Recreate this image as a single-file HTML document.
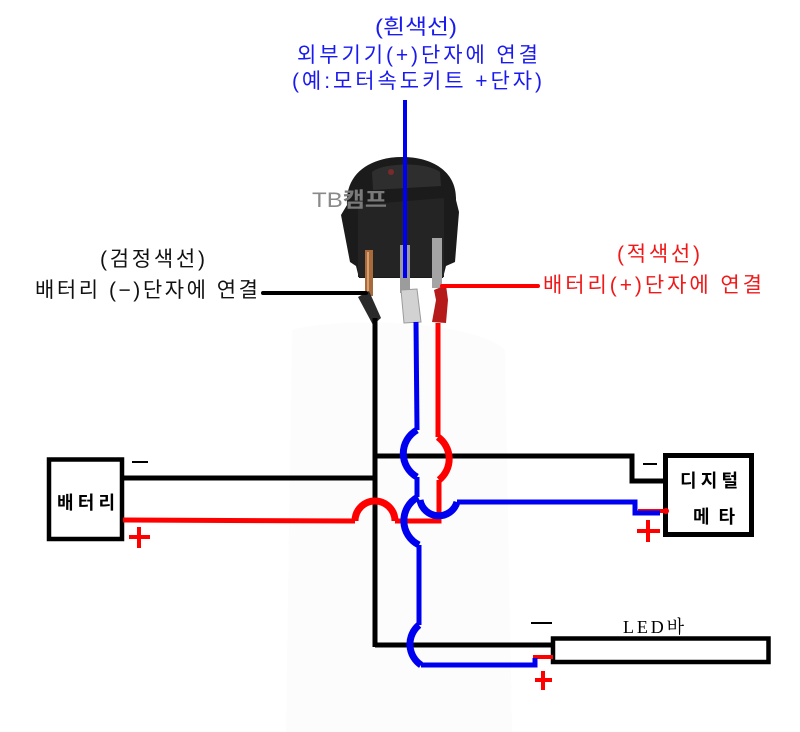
<!DOCTYPE html>
<html><head><meta charset="utf-8"><style>html,body{margin:0;padding:0;background:#fff;}svg{display:block}
text{font-family:"Liberation Sans","Noto Sans CJK KR",sans-serif;}
</style></head>
<body>
<svg width="800" height="732" viewBox="0 0 800 732" xmlns="http://www.w3.org/2000/svg">
<rect width="800" height="732" fill="#fff"/>
<path d="M292,330 C330,318 470,318 505,350 L512,732 L286,732 Z" fill="#fcfcfc"/>

<!-- top blue label -->
<g fill="#1a1af0" font-size="21">
<text x="375" y="34" textLength="82" lengthAdjust="spacingAndGlyphs">(흰색선)</text>
<text x="297" y="62" textLength="241" lengthAdjust="spacing">외부기기(+)단자에 연결</text>
<text x="292" y="88" textLength="250" lengthAdjust="spacing">(예:모터속도키트 +단자)</text>
</g>
<!-- left label -->
<g fill="#111" font-size="21">
<text x="100" y="266" textLength="105" lengthAdjust="spacing">(검정색선)</text>
<text x="35" y="297" textLength="223" lengthAdjust="spacing">배터리 (−)단자에 연결</text>
</g>
<!-- right label -->
<g fill="#f01818" font-size="21">
<text x="617" y="261" textLength="83" lengthAdjust="spacing">(적색선)</text>
<text x="543" y="292" textLength="219" lengthAdjust="spacing">배터리(+)단자에 연결</text>
</g>

<!-- switch photo approximation -->
<g>
<path d="M347,205 C345,172 372,157 402,157 C433,157 457,172 456,200 L459,212 L455,262 L446,266 L443,278 L359,278 L356,266 L350,262 L341,215 Z" fill="#1b1b1b"/>
<path d="M358,205 L444,198 L444,277 L358,277 Z" fill="#242424"/>
<path d="M372,172 C382,163 425,161 440,172 L441,186 L373,190 Z" fill="#2e2e2e"/>
<circle cx="391" cy="172" r="3" fill="#7a2a2a"/>
<rect x="365" y="250" width="8" height="46" fill="#a86a3c"/>
<rect x="367" y="252" width="2" height="42" fill="#d9a070"/>
<rect x="400" y="245" width="10" height="48" fill="#9c9c9c"/>
<rect x="432" y="238" width="10" height="50" fill="#a4a4a4"/>
<polygon points="358,297 369,291 381,318 373,325" fill="#2a2a2a"/>
<polygon points="401,290 417,289 421,322 404,323" fill="#d2d2d2" stroke="#9a9a9a" stroke-width="1"/>
<path d="M434,290 L446,285 L448,300 L446,323 L432,322 L436,300 Z" fill="#b51b1b"/>
</g>
<text x="312" y="207" font-size="21" fill="#8a8a8a" textLength="75" lengthAdjust="spacingAndGlyphs">TB<tspan font-weight="bold" fill="#7a7a7a">캠프</tspan></text>

<!-- label wires -->
<line x1="405" y1="100" x2="405" y2="278" stroke="#0000f0" stroke-width="4"/>
<line x1="263" y1="293" x2="366" y2="293" stroke="#000" stroke-width="4" stroke-linecap="round"/>
<line x1="442" y1="286" x2="538" y2="286" stroke="#f00" stroke-width="4" stroke-linecap="round"/>

<!-- black wires -->
<g stroke="#000" stroke-width="5" fill="none">
<line x1="375" y1="318" x2="375" y2="647"/>
<polyline points="375,456 632,456 632,481 665,481"/>
<line x1="122" y1="478" x2="375" y2="478"/>
<line x1="375" y1="645" x2="553" y2="645"/>
</g>

<!-- boxes -->
<rect x="49" y="459.5" width="73" height="79.5" fill="none" stroke="#000" stroke-width="4.5"/>
<rect x="665.5" y="455.5" width="86" height="79" fill="none" stroke="#000" stroke-width="5"/>
<rect x="553" y="638.5" width="215.5" height="23.5" fill="none" stroke="#000" stroke-width="4.5"/>

<!-- red wires -->
<g stroke="#f00" stroke-width="5" fill="none">
<path d="M438,323 L438,437"/>
<path d="M438,437 A27,27 0 0,1 439,480" stroke-width="7"/>
<path d="M439,480 L439,521 L395,521"/>
<path d="M395,521 A20,20 0 0,0 355,521" stroke-width="7"/>
<path d="M355,521 L123,520"/>
<path d="M638,511 L666,511" stroke-width="4"/>
<path d="M533,657 L553,657" stroke-width="4"/>
</g>
<circle cx="666" cy="511" r="3" fill="#f00"/>

<!-- blue wires -->
<g stroke="#0000f0" stroke-width="5" fill="none">
<path d="M416,322 L417,430"/>
<path d="M417,430 A27,27 0 0,0 417,477" stroke-width="7"/>
<path d="M417,477 L417,497"/>
<path d="M418,497 A27,27 0 0,0 419,545" stroke-width="7"/>
<path d="M419,545 L419,625"/>
<path d="M419,625 A25,25 0 0,0 421,665" stroke-width="7"/>
<path d="M421,665 L535,665 L535,658"/>
<path d="M420,500 A19,19 0 0,0 457,502" stroke-width="7"/>
<path d="M457,502 L635,502 L635,513 L660,513"/>
</g>

<!-- signs -->
<g stroke="#000" stroke-width="2">
<line x1="132" y1="462" x2="148" y2="462"/>
<line x1="643" y1="464" x2="657" y2="464"/>
<line x1="531" y1="623" x2="552" y2="623"/>
</g>
<g stroke="#f00" stroke-width="4">
<line x1="129" y1="537" x2="150" y2="537"/><line x1="139" y1="527" x2="139" y2="548"/>
<line x1="637" y1="531" x2="660" y2="531"/><line x1="648" y1="520" x2="648" y2="542"/>
<line x1="535" y1="680" x2="552" y2="680"/><line x1="543" y1="671" x2="543" y2="690"/>
</g>

<!-- box labels -->
<text x="57" y="509" font-size="18" font-weight="bold" fill="#000" textLength="58" lengthAdjust="spacing">배터리</text>
<text x="680" y="487" font-size="18" font-weight="bold" fill="#000" textLength="58" lengthAdjust="spacing">디지털</text>
<text x="693" y="523" font-size="18" font-weight="bold" fill="#000" textLength="42" lengthAdjust="spacing">메타</text>
<text x="623" y="633" font-size="18" fill="#000" style="font-family:'Liberation Serif','Noto Serif CJK KR','Noto Serif CJK SC',serif" textLength="61" lengthAdjust="spacing">LED바</text>
</svg>
</body></html>
